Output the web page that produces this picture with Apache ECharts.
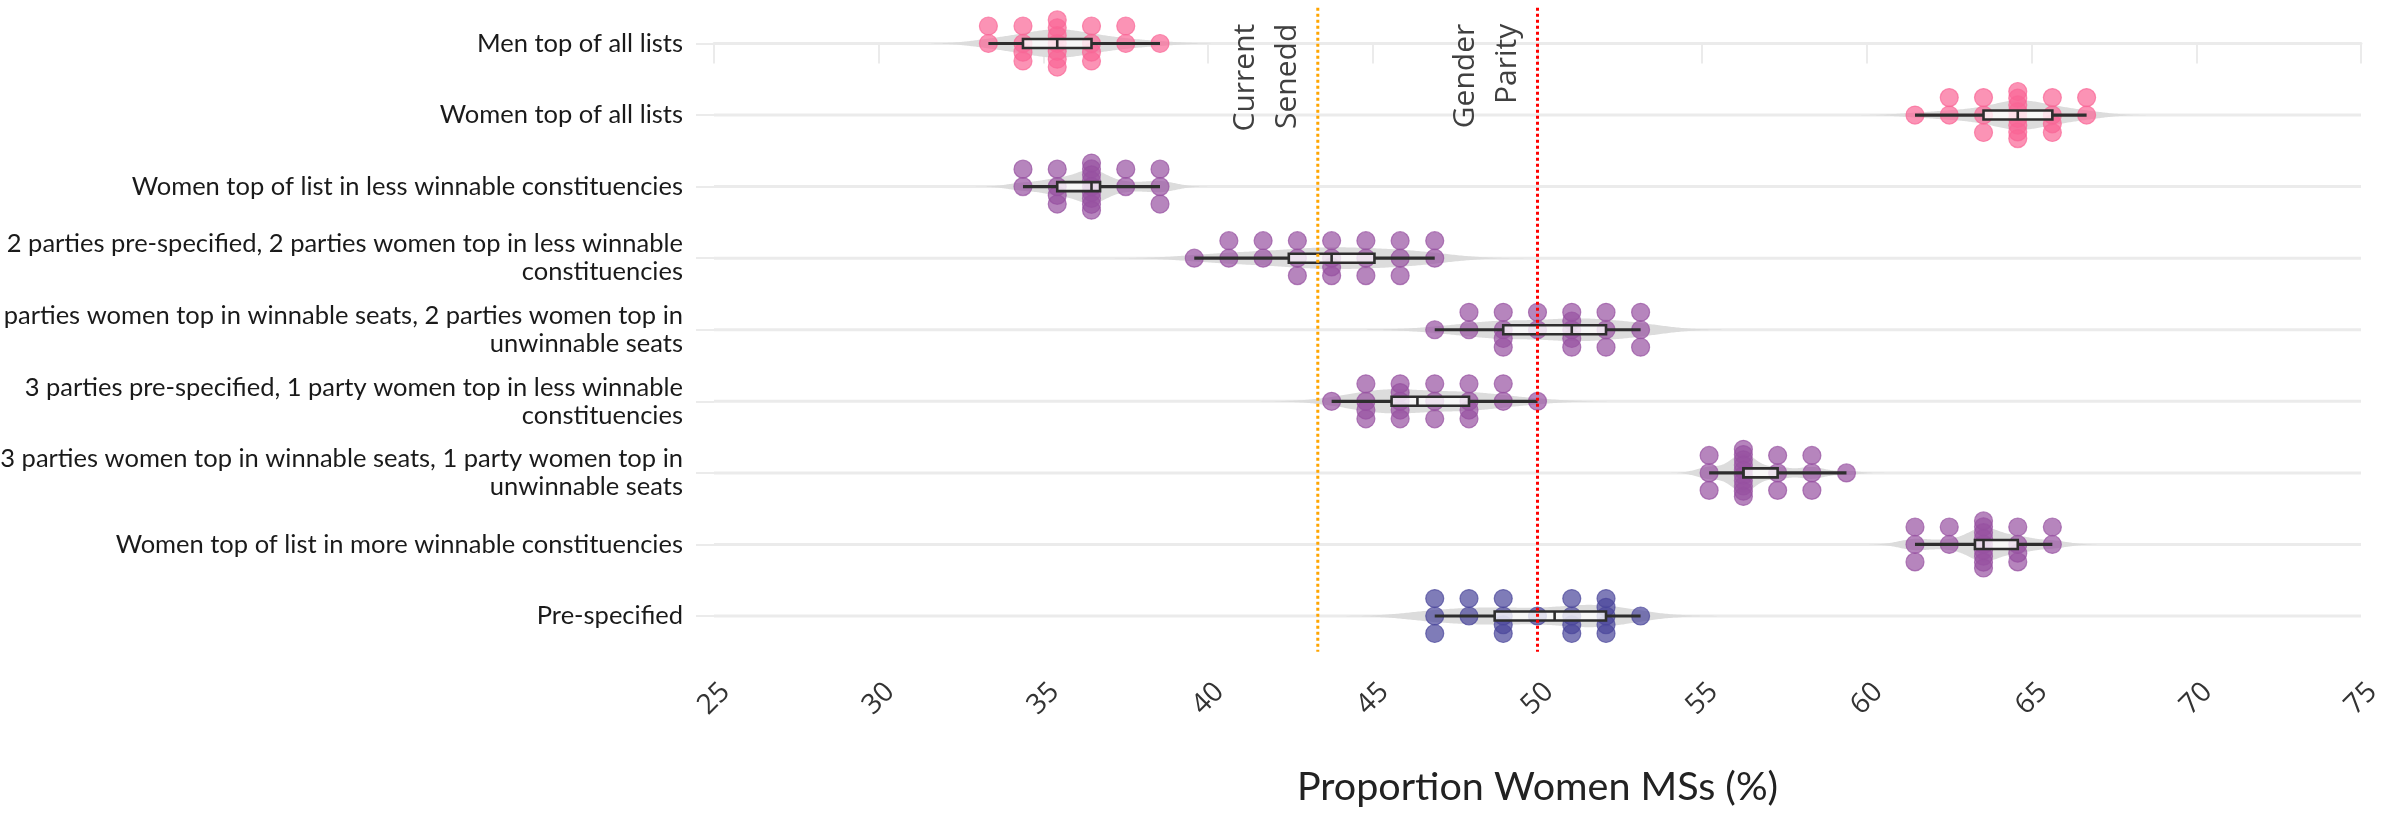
<!DOCTYPE html>
<html><head><meta charset="utf-8">
<script src="https://cdn.jsdelivr.net/npm/echarts@6/dist/echarts.min.js"></script>
<style>html,body{margin:0;padding:0;background:#fff}#c{width:2381px;height:813px}</style>
</head><body><div id="c"></div>
<script>
// ---- categories (top to bottom) ----
const categories = [
  'Men top of all lists',
  'Women top of all lists',
  'Women top of list in less winnable constituencies',
  '2 parties pre-specified, 2 parties women top in less winnable\nconstituencies',
  '2 parties women top in winnable seats, 2 parties women top in\nunwinnable seats',
  '3 parties pre-specified, 1 party women top in less winnable\nconstituencies',
  '3 parties women top in winnable seats, 1 party women top in\nunwinnable seats',
  'Women top of list in more winnable constituencies',
  'Pre-specified'
];

// ---- simulated outcomes (% women MSs), one value per dot ----
const menTopAll = [33.33,33.33, 34.38,34.38,34.38,34.38, 35.42,35.42,35.42,35.42,35.42,35.42,35.42, 36.46,36.46,36.46,36.46, 37.50,37.50, 38.54];
const womenTopAll = [61.46, 62.50,62.50, 63.54,63.54,63.54, 64.58,64.58,64.58,64.58,64.58,64.58,64.58,64.58, 65.63,65.63,65.63,65.63, 66.67,66.67];
const womenTopLessWinnable = [34.38,34.38, 35.42,35.42,35.42,35.42, 36.46,36.46,36.46,36.46,36.46,36.46,36.46,36.46,36.46, 37.50,37.50, 38.54,38.54,38.54];
const twoPreTwoLess = [39.58, 40.63,40.63, 41.67,41.67, 42.71,42.71,42.71, 43.75,43.75,43.75,43.75, 44.79,44.79,44.79, 45.83,45.83,45.83, 46.88,46.88];
const twoWinTwoUnwin = [46.88, 47.92,47.92, 48.96,48.96,48.96,48.96, 50.00,50.00, 51.04,51.04,51.04,51.04,51.04, 52.08,52.08,52.08, 53.13,53.13,53.13];
const threePreOneLess = [43.75, 44.79,44.79,44.79,44.79, 45.83,45.83,45.83,45.83,45.83, 46.88,46.88,46.88, 47.92,47.92,47.92,47.92, 48.96,48.96, 50.00];
const threeWinOneUnwin = [55.21,55.21,55.21, 56.25,56.25,56.25,56.25,56.25,56.25,56.25,56.25,56.25,56.25, 57.29,57.29,57.29, 58.33,58.33,58.33, 59.38];
const womenTopMoreWinnable = [61.46,61.46,61.46, 62.50,62.50, 63.54,63.54,63.54,63.54,63.54,63.54,63.54,63.54,63.54, 64.58,64.58,64.58,64.58, 65.63,65.63];
const preSpecified = [46.88,46.88,46.88, 47.92,47.92, 48.96,48.96,48.96,48.96, 50.00, 51.04,51.04,51.04,51.04, 52.08,52.08,52.08,52.08,52.08, 53.13];

const rowValues = [menTopAll, womenTopAll, womenTopLessWinnable, twoPreTwoLess, twoWinTwoUnwin,
                   threePreOneLess, threeWinOneUnwin, womenTopMoreWinnable, preSpecified];
const rowGroup = ['men', 'women', 'mixed', 'mixed', 'mixed', 'mixed', 'mixed', 'mixed', 'pre'];
const groupColor = { men: '#f96595', women: '#f96595', mixed: '#9751a1', pre: '#48449a' };

// ---- x axis ----
const xMin = 25, xMax = 75, xInterval = 5;
const axisTitle = 'Proportion Women MSs (%)';

// ---- reference lines ----
const refValues = [43.33, 50];
const refLabels = ['Current\nSenedd', 'Gender\nParity'];
const refColors = ['#ffa500', '#ff0000'];

// ---------- helpers ----------
function quantile(sorted, p) {
  const h = (sorted.length - 1) * p, lo = Math.floor(h);
  const hi = Math.min(lo + 1, sorted.length - 1);
  return sorted[lo] + (h - lo) * (sorted[hi] - sorted[lo]);
}
function stats(vals) {
  const s = vals.slice().sort((a, b) => a - b);
  return { min: s[0], max: s[s.length - 1], q1: quantile(s, 0.25), med: quantile(s, 0.5), q3: quantile(s, 0.75) };
}
function kde(vals) {
  const n = vals.length;
  const mean = vals.reduce((a, b) => a + b, 0) / n;
  const sd = Math.sqrt(vals.reduce((a, b) => a + (b - mean) * (b - mean), 0) / (n - 1));
  const st = stats(vals);
  const iqr = st.q3 - st.q1;
  const bw = 0.9 * Math.min(sd, iqr / 1.34) * Math.pow(n, -0.2);
  const lo = st.min - 3 * bw, hi = st.max + 3 * bw;
  const pts = [];
  const N = 240;
  for (let i = 0; i <= N; i++) {
    const x = lo + (hi - lo) * i / N;
    let d = 0;
    for (const v of vals) { const z = (x - v) / bw; d += Math.exp(-0.5 * z * z); }
    d = d / (n * bw * Math.sqrt(2 * Math.PI));
    pts.push([x, d]);
  }
  return pts;
}
const violins = rowValues.map(kde);

// dot stacking within a row (beeswarm-like)
const slot = 0.244;
function slotsFor(n) {
  if (n === 1) return [0];
  if (n === 2) return [-1, 0];
  if (n === 3) return [-1, 0, 1];
  if (n === 4) return [-1, 0, 1, 0.5];
  const span = n >= 7 ? 1.35 : 1;
  const out = [];
  for (let i = 0; i < n; i++) out.push(-span + 2 * span * i / (n - 1));
  return out;
}
const dots = [];
rowValues.forEach((vals, r) => {
  const counts = new Map();
  vals.forEach(v => counts.set(v, (counts.get(v) || 0) + 1));
  const col = groupColor[rowGroup[r]];
  counts.forEach((n, v) => {
    slotsFor(n).forEach(s => {
      dots.push({ value: [v, r + s * slot], itemStyle: { color: col, borderColor: col } });
    });
  });
});

const chart = echarts.init(document.getElementById('c'), null, { renderer: 'canvas' });
const rowIdx = categories.map((c, i) => [xMin, i]);

chart.setOption({
  animation: false,
  backgroundColor: '#ffffff',
  grid: { left: 714, right: 20, top: 7.7, bottom: 161.2, containLabel: false, outerBoundsMode: 'none' },
  xAxis: {
    type: 'value', min: xMin, max: xMax, interval: xInterval,
    name: axisTitle, nameLocation: 'middle', nameGap: 115,
    nameTextStyle: { fontSize: 39.5, color: '#222222', fontFamily: 'Lato' },
    axisLine: { show: true, lineStyle: { color: '#ebebeb', width: 3 } },
    axisTick: { show: true, length: 20, lineStyle: { color: '#ebebeb', width: 2 } },
    splitLine: { show: false },
    axisLabel: { rotate: 45, align: 'center', verticalAlign: 'middle', margin: 47,
      fontSize: 28, color: '#333333', fontFamily: 'Open Sans' }
  },
  yAxis: [{
    type: 'category', data: categories, inverse: true,
    axisLine: { show: false },
    axisTick: { show: true, alignWithLabel: true, length: 18, lineStyle: { color: '#ebebeb', width: 2 } },
    splitLine: { show: false },
    axisLabel: { fontSize: 25.5, color: '#1a1a1a', fontFamily: 'Lato', margin: 31, lineHeight: 28 }
  }, {
    type: 'value', min: -0.5, max: 8.5, inverse: true, show: false,
    splitLine: { show: false }
  }],
  series: [
    { // row grid lines
      type: 'custom', xAxisIndex: 0, yAxisIndex: 1, data: rowIdx, silent: true, z: 1,
      renderItem: (params, api) => {
        const r = api.value(1);
        const a = api.coord([xMin, r]), b = api.coord([xMax, r]);
        return { type: 'line', shape: { x1: a[0], y1: a[1], x2: b[0], y2: b[1] },
          style: { stroke: '#ebebeb', lineWidth: 3 } };
      }
    },
    { // violins
      type: 'custom', xAxisIndex: 0, yAxisIndex: 1, data: rowIdx, silent: true, z: 2,
      renderItem: (params, api) => {
        const r = api.value(1);
        const pts = violins[r];
        const dmax = Math.max(...pts.map(p => p[1]));
        const K = 27 / Math.sqrt(dmax);
        const top = [], bot = [];
        pts.forEach(([x, d]) => {
          const c = api.coord([x, r]);
          top.push([c[0], c[1] - K * d]);
          bot.push([c[0], c[1] + K * d]);
        });
        return { type: 'polygon', shape: { points: top.concat(bot.reverse()) },
          style: { fill: '#dcdcdc' } };
      }
    },
    { // dots
      type: 'scatter', xAxisIndex: 0, yAxisIndex: 1, data: dots, symbolSize: 18, z: 3, silent: true,
      itemStyle: { opacity: 0.7, borderWidth: 1.2 }
    },
    { // box plots
      type: 'custom', xAxisIndex: 0, yAxisIndex: 1, data: rowIdx, silent: true, z: 4,
      renderItem: (params, api) => {
        const r = api.value(1);
        const st = stats(rowValues[r]);
        const pMin = api.coord([st.min, r]), pQ1 = api.coord([st.q1, r]), pMed = api.coord([st.med, r]);
        const pQ3 = api.coord([st.q3, r]), pMax = api.coord([st.max, r]);
        const y = pMin[1], h = 9;
        const ln = { stroke: '#2e2e2e', lineWidth: 3.2 };
        return { type: 'group', children: [
          { type: 'line', shape: { x1: pMin[0], y1: y, x2: pQ1[0], y2: y }, style: ln },
          { type: 'line', shape: { x1: pQ3[0], y1: y, x2: pMax[0], y2: y }, style: ln },
          { type: 'rect', shape: { x: pQ1[0], y: y - h / 2, width: pQ3[0] - pQ1[0], height: h },
            style: { fill: 'rgba(255,255,255,0.78)', stroke: '#2e2e2e', lineWidth: 2.6 } },
          { type: 'line', shape: { x1: pMed[0], y1: y - h / 2, x2: pMed[0], y2: y + h / 2 },
            style: { stroke: '#2e2e2e', lineWidth: 2.6 } }
        ] };
      }
    },
    { // reference lines and labels
      type: 'custom', xAxisIndex: 0, yAxisIndex: 1, silent: true, z: 5,
      data: refValues.map((v, i) => [v, i]),
      renderItem: (params, api) => {
        const i = api.value(1);
        const a = api.coord([api.value(0), -0.5]), b = api.coord([api.value(0), 8.5]);
        return { type: 'group', children: [
          { type: 'line', shape: { x1: a[0], y1: a[1], x2: b[0], y2: b[1] },
            style: { stroke: refColors[i], lineWidth: 3, lineDash: [3, 3] } },
          { type: 'text', x: a[0] - 9, y: a[1] + 16, rotation: Math.PI / 2,
            style: { text: refLabels[i], fill: '#404040', fontSize: 30, fontFamily: 'Open Sans',
              align: 'right', verticalAlign: 'bottom', lineHeight: 42 } }
        ] };
      }
    }
  ]
});
</script></body></html>
